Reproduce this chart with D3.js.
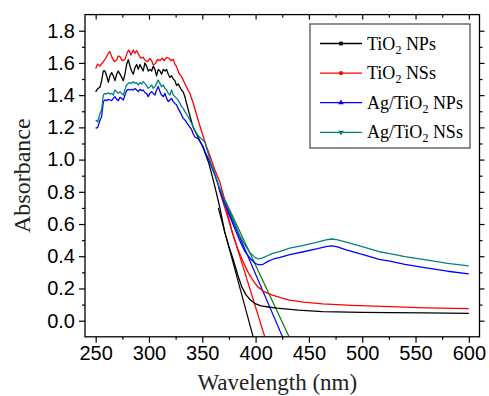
<!DOCTYPE html>
<html>
<head>
<meta charset="utf-8">
<script src="https://cdn.jsdelivr.net/npm/d3@7"></script>
<style>
  body { margin: 0; background: #fff; }
  .tick text { font-family: "Liberation Sans", Arial, sans-serif; font-size: 20px; fill: #000; }
</style>
</head>
<body>
<svg id="chart"></svg>
<script>
// spectra: [wavelength nm, absorbance]
const tio2NPs = [[250,1.42],[251.9,1.44],[254.1,1.45],[255.6,1.49],[257.2,1.55],[258.7,1.55],[260.3,1.52],[261.9,1.48],[263.4,1.52],[265,1.54],[266.5,1.52],[268.1,1.49],[269.7,1.53],[271.2,1.55],[273.7,1.52],[275.9,1.49],[277.5,1.53],[279,1.59],[280.6,1.62],[282.2,1.58],[283.7,1.55],[285.3,1.53],[286.8,1.57],[288.4,1.59],[290,1.56],[291.5,1.59],[293.1,1.57],[294.6,1.55],[296.2,1.60],[297.8,1.58],[299.3,1.55],[300.9,1.56],[302.5,1.55],[304,1.58],[305.6,1.56],[307.1,1.52],[308.7,1.56],[310.3,1.55],[311.8,1.53],[313.4,1.56],[315,1.55],[316.5,1.56],[318.1,1.53],[319.6,1.51],[321.2,1.52],[322.8,1.50],[324.3,1.49],[325.9,1.46],[327.4,1.47],[329,1.45],[330.6,1.43],[332.1,1.42],[333.7,1.39],[335.2,1.35],[336.8,1.31],[339.3,1.25],[341.5,1.20],[346,1.14],[351,1.07],[356,0.98],[360,0.88],[363,0.80],[366.5,0.70],[369,0.62],[371,0.55],[375,0.46],[379,0.38],[383,0.29],[387,0.21],[391,0.16],[395,0.13],[399,0.108],[405,0.092],[412,0.085],[420,0.078],[440,0.065],[463,0.056],[500,0.052],[526,0.05],[560,0.048],[600,0.046]];

const tio2NSs = [[250,1.566],[251.9,1.593],[254,1.581],[257.2,1.608],[259.4,1.629],[261.9,1.66],[263.4,1.67],[265,1.639],[267.5,1.608],[269.7,1.618],[271.2,1.643],[272.8,1.639],[275,1.614],[277.5,1.622],[280,1.67],[281.2,1.68],[283.1,1.649],[285.3,1.68],[286.8,1.66],[288.4,1.676],[290.6,1.649],[292.5,1.629],[294.6,1.635],[296.2,1.618],[298.7,1.608],[300.9,1.629],[302.5,1.614],[304,1.587],[306.2,1.597],[308.1,1.622],[310.3,1.614],[312.4,1.629],[314.3,1.614],[316.5,1.635],[318.7,1.629],[320.6,1.614],[322.8,1.622],[324.3,1.593],[325.9,1.577],[328.1,1.536],[330.6,1.515],[333.1,1.48],[335.2,1.45],[338.4,1.41],[341.5,1.35],[344.6,1.28],[347.7,1.21],[351,1.14],[354,1.08],[358,1.01],[361.8,0.935],[366.5,0.86],[371,0.75],[374.2,0.65],[378,0.55],[383,0.45],[388,0.37],[393,0.30],[398,0.245],[402,0.21],[408,0.18],[415,0.16],[425,0.14],[432,0.128],[445,0.115],[463,0.104],[490,0.095],[526,0.087],[560,0.08],[600,0.075]];

const agNPs = [[250,1.194],[251.9,1.20],[254.1,1.246],[255.6,1.266],[257.2,1.36],[258.7,1.37],[260.3,1.366],[261.9,1.374],[263.4,1.37],[265,1.366],[266.5,1.38],[268.1,1.391],[269.7,1.374],[271.2,1.366],[272.8,1.386],[274.3,1.38],[275.9,1.37],[277.5,1.401],[279,1.428],[280.6,1.436],[282.2,1.432],[283.7,1.436],[285.3,1.432],[286.8,1.442],[288.4,1.432],[290,1.422],[291.5,1.436],[293.1,1.428],[294.6,1.432],[296.2,1.415],[297.8,1.411],[299.3,1.391],[300.9,1.411],[302.5,1.422],[304,1.411],[305.6,1.401],[307.1,1.432],[308.7,1.453],[310.3,1.422],[311.8,1.401],[313.4,1.391],[315,1.411],[316.5,1.38],[318.1,1.36],[319.6,1.37],[321.2,1.38],[322.8,1.36],[324.3,1.349],[325.9,1.339],[327.4,1.318],[329,1.298],[330.6,1.277],[332.1,1.256],[333.7,1.246],[336.8,1.215],[339.9,1.188],[341.4,1.16],[343,1.14],[346,1.13],[348,1.11],[350.8,1.08],[353,1.04],[356,1.0],[359,0.95],[362,0.9],[366,0.82],[370,0.74],[375,0.66],[380,0.58],[385,0.50],[390,0.43],[395,0.385],[400,0.355],[403,0.346],[407,0.35],[412,0.37],[417,0.383],[423,0.393],[432,0.41],[445,0.428],[458,0.447],[466,0.46],[471,0.464],[476,0.46],[485,0.44],[500,0.412],[516,0.381],[526,0.37],[540,0.35],[563,0.325],[580,0.307],[600,0.29]];

const agNSs = [[250,1.246],[251.9,1.235],[254.1,1.287],[255.6,1.308],[257.2,1.401],[258.7,1.411],[260.3,1.407],[261.9,1.415],[263.4,1.407],[265,1.411],[266.5,1.401],[268.1,1.432],[269.7,1.422],[271.2,1.411],[272.8,1.422],[274.3,1.411],[275.9,1.401],[277.5,1.436],[279,1.463],[280.6,1.473],[282.2,1.478],[283.7,1.473],[285.3,1.484],[286.8,1.473],[288.4,1.478],[290,1.463],[291.5,1.478],[293.1,1.469],[294.6,1.484],[296.2,1.473],[297.8,1.457],[299.3,1.442],[300.9,1.453],[302.5,1.463],[304,1.442],[305.6,1.453],[307.1,1.473],[308.7,1.494],[310.3,1.473],[311.8,1.453],[313.4,1.463],[315,1.442],[316.5,1.432],[318.1,1.411],[319.6,1.401],[321.2,1.432],[322.8,1.401],[324.3,1.391],[325.9,1.38],[327.4,1.37],[329,1.349],[330.6,1.329],[332.1,1.318],[333.7,1.298],[336.8,1.266],[339.9,1.225],[343.1,1.18],[346,1.15],[349,1.13],[352.4,1.11],[355,1.05],[358,0.98],[362,0.91],[366,0.83],[370,0.76],[375,0.69],[380,0.61],[385,0.53],[390,0.47],[395,0.42],[400,0.39],[403,0.383],[406,0.388],[410,0.40],[416,0.418],[423,0.43],[432,0.45],[445,0.468],[458,0.488],[466,0.502],[471,0.507],[476,0.503],[485,0.488],[500,0.46],[516,0.428],[526,0.416],[540,0.398],[563,0.375],[580,0.356],[600,0.34]];

// band-gap extrapolation lines: [start, end]
const tangentNPs = [[365,0.70],[397.7,-0.1]];
const tangentNSs = [[366,0.81],[408.6,-0.1]];
const tangentAgNPs = [[365,0.83],[425.2,-0.1]];
const tangentAgNSs = [[366,0.825],[431.4,-0.1]];

const xMajor = [250,300,350,400,450,500,550,600];
const xMinor = [275,325,375,425,475,525,575];
const yMajor = [0,0.2,0.4,0.6,0.8,1.0,1.2,1.4,1.6,1.8];
const yMinor = [0.1,0.3,0.5,0.7,0.9,1.1,1.3,1.5,1.7];

const width = 489, height = 396;
const mLeft = 85, mRight = 479.5, mTop = 14.6, mBottom = 336.8;
const serif = "'Liberation Serif', 'Times New Roman', 'DejaVu Serif', serif";

const svg = d3.select("#chart").attr("width", width).attr("height", height);

const x = d3.scaleLinear().domain([240, 610]).range([mLeft, mRight]);
const y = d3.scaleLinear().domain([-0.1, 1.9]).range([mBottom, mTop]);

svg.append("defs").append("clipPath").attr("id", "plot")
  .append("rect").attr("x", mLeft).attr("y", mTop)
  .attr("width", mRight - mLeft).attr("height", mBottom - mTop);

const line = d3.line().x(d => x(d[0])).y(d => y(d[1]));

const series = [
  {data: tio2NPs, tangent: tangentNPs, color: "#000000", tanColor: "#000000", label: "TiO", tail: " NPs", marker: "square"},
  {data: tio2NSs, tangent: tangentNSs, color: "#ff0000", tanColor: "#ff0000", label: "TiO", tail: " NSs", marker: "circle"},
  {data: agNPs, tangent: tangentAgNPs, color: "#0000ff", tanColor: "#0000ff", label: "Ag/TiO", tail: " NPs", marker: "triangle"},
  {data: agNSs, tangent: tangentAgNSs, color: "#008080", tanColor: "#008000", label: "Ag/TiO", tail: " NSs", marker: "triangleDown"}
];

const plot = svg.append("g").attr("clip-path", "url(#plot)");

series.forEach(s => {
  plot.append("path")
    .attr("d", line(s.tangent))
    .attr("fill", "none")
    .attr("stroke", s.tanColor)
    .attr("stroke-width", 1.2);
});
series.forEach(s => {
  plot.append("path")
    .attr("d", line(s.data))
    .attr("fill", "none")
    .attr("stroke", s.color)
    .attr("stroke-width", 1.3)
    .attr("stroke-linejoin", "round");
});

// axes
svg.append("g").attr("transform", `translate(0,${mBottom})`)
  .call(d3.axisBottom(x).tickValues(xMajor).tickSize(6).tickPadding(3));
svg.append("g").attr("transform", `translate(0,${mBottom})`)
  .call(d3.axisBottom(x).tickValues(xMinor).tickSize(3).tickFormat(""));
svg.append("g").attr("transform", `translate(0,${mTop})`)
  .call(d3.axisTop(x).tickValues(xMajor).tickSize(-5).tickFormat(""));
svg.append("g").attr("transform", `translate(0,${mTop})`)
  .call(d3.axisTop(x).tickValues(xMinor).tickSize(-3).tickFormat(""));

svg.append("g").attr("transform", `translate(${mLeft},0)`)
  .call(d3.axisLeft(y).tickValues(yMajor).tickSize(6).tickPadding(4).tickFormat(d3.format(".1f")));
svg.append("g").attr("transform", `translate(${mLeft},0)`)
  .call(d3.axisLeft(y).tickValues(yMinor).tickSize(3).tickFormat(""));
svg.append("g").attr("transform", `translate(${mRight},0)`)
  .call(d3.axisRight(y).tickValues(yMajor).tickSize(5).tickFormat(""));
svg.append("g").attr("transform", `translate(${mRight},0)`)
  .call(d3.axisRight(y).tickValues(yMinor).tickSize(3).tickFormat(""));

svg.selectAll(".domain").remove();
svg.selectAll(".tick line").attr("stroke", "#000").attr("stroke-width", 1.2);

svg.append("rect")
  .attr("x", mLeft).attr("y", mTop)
  .attr("width", mRight - mLeft).attr("height", mBottom - mTop)
  .attr("fill", "none").attr("stroke", "#000").attr("stroke-width", 1.3);

// titles
svg.append("text")
  .attr("font-family", serif).attr("font-size", 23).attr("fill", "#222")
  .attr("x", (mLeft + mRight) / 2 - 5).attr("y", 390)
  .attr("text-anchor", "middle").text("Wavelength (nm)");
svg.append("text")
  .attr("font-family", serif).attr("font-size", 24).attr("fill", "#222")
  .attr("transform", `translate(30,${(mTop + mBottom) / 2}) rotate(-90)`)
  .attr("text-anchor", "middle").text("Absorbance");

// legend
const legend = svg.append("g");
legend.append("rect")
  .attr("x", 310).attr("y", 24).attr("width", 160).attr("height", 124)
  .attr("fill", "#fff").attr("stroke", "#444").attr("stroke-width", 1.2);

const symbols = {
  square: d3.symbolSquare, circle: d3.symbolCircle,
  triangle: d3.symbolTriangle, triangleDown: d3.symbolTriangle
};

series.forEach((s, i) => {
  const ly = 43.5 + i * 29.6;
  legend.append("line")
    .attr("x1", 320).attr("x2", 362).attr("y1", ly).attr("y2", ly)
    .attr("stroke", s.color).attr("stroke-width", 1.3);
  legend.append("path")
    .attr("d", d3.symbol().type(symbols[s.marker]).size(14)())
    .attr("transform", `translate(341,${ly})` + (s.marker === "triangleDown" ? " rotate(180)" : ""))
    .attr("fill", s.color);
  const t = legend.append("text")
    .attr("font-family", serif).attr("font-size", 18).attr("fill", "#000")
    .attr("x", 367).attr("y", ly + 6);
  t.append("tspan").text(s.label);
  t.append("tspan").attr("dy", 4).attr("font-size", 12).text("2");
  t.append("tspan").attr("dy", -4).text(s.tail);
});
</script>
</body>
</html>
